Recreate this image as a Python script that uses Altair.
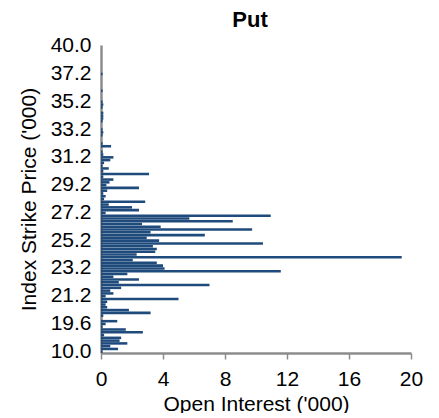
import altair as alt
import pandas as pd

# Strike categories, top of the axis first ('000)
strikes = [
    "40.0", "39.0", "38.8", "38.6", "38.4", "38.2", "38.0", "37.8", "37.6", "37.4",
    "37.2", "37.0", "36.8", "36.6", "36.4", "36.2", "36.0", "35.8", "35.6", "35.4",
    "35.2", "35.0", "34.8", "34.6", "34.4", "34.2", "34.0", "33.8", "33.6", "33.4",
    "33.2", "33.0", "32.8", "32.6", "32.4", "32.2", "32.0", "31.8", "31.6", "31.4",
    "31.2", "31.0", "30.8", "30.6", "30.4", "30.2", "30.0", "29.8", "29.6", "29.4",
    "29.2", "29.0", "28.8", "28.6", "28.4", "28.2", "28.0", "27.8", "27.6", "27.4",
    "27.2", "27.0", "26.8", "26.6", "26.4", "26.2", "26.0", "25.8", "25.6", "25.4",
    "25.2", "25.0", "24.8", "24.6", "24.4", "24.2", "24.0", "23.8", "23.6", "23.4",
    "23.2", "23.0", "22.8", "22.6", "22.4", "22.2", "22.0", "21.8", "21.6", "21.4",
    "21.2", "21.0", "20.8", "20.6", "20.4", "20.2", "20.0", "19.9", "19.8", "19.7",
    "19.6", "19.2", "18.8", "18.4", "18.0", "17.0", "16.0", "15.0", "14.0", "12.0",
    "10.0",
]

# Put open interest ('000), same order as strikes
open_interest = [
    0, 0, 0, 0, 0, 0, 0, 0, 0, 0,
    0.1, 0, 0, 0, 0, 0, 0.1, 0, 0, 0,
    0.1, 0.15, 0.1, 0, 0.15, 0.15, 0.15, 0.1, 0, 0,
    0.1, 0.15, 0.1, 0, 0, 0.1, 0.65, 0, 0.1, 0.15,
    0.8, 0.6, 0.2, 0.1, 0.5, 0.15, 3.1, 0.15, 0.8, 0.55,
    0.35, 2.45, 0.4, 0.15, 0.3, 0.2, 2.85, 0.5, 2.0, 2.45,
    0.3, 10.95, 5.7, 8.5, 2.65, 3.85, 9.75, 3.2, 6.7, 2.95,
    3.75, 10.45, 3.35, 3.6, 3.5, 2.3, 19.4, 2.05, 3.6, 4.0,
    4.1, 11.6, 1.7, 0.8, 2.45, 1.15, 7.0, 1.3, 0.6, 0.8,
    0.3, 5.0, 0.4, 0.3, 0.4, 1.8, 3.2, 0.15, 0, 1.05,
    0.3, 0.1, 1.6, 2.7, 0.2, 1.3, 1.2, 1.7, 0.6, 1.1,
    0.1,
]

y_labels = ["40.0", "37.2", "35.2", "33.2", "31.2", "29.2", "27.2",
            "25.2", "23.2", "21.2", "19.6", "10.0"]
x_ticks = [0, 4, 8, 12, 16, 20]

df = pd.DataFrame({"strike": strikes, "oi": open_interest})

FONT = "Liberation Sans"

chart = (
    alt.Chart(df)
    .mark_bar(color="#1f4a7c")
    .encode(
        x=alt.X(
            "oi:Q",
            scale=alt.Scale(domain=[0, 20], nice=False),
            axis=alt.Axis(
                values=x_ticks,
                title="Open Interest ('000)",
                grid=False,
                labelFlush=False,
                tickSize=6,
                tickColor="#8c8c8c",
                tickWidth=1.5,
                domainColor="#8c8c8c",
                domainWidth=2.5,
                labelPadding=9,
                titlePadding=4,
            ),
        ),
        y=alt.Y(
            "strike:N",
            sort=strikes,
            scale=alt.Scale(paddingInner=0.08, paddingOuter=0),
            axis=alt.Axis(
                values=y_labels,
                title="Index Strike Price ('000)",
                ticks=False,
                grid=False,
                domainColor="#8c8c8c",
                domainWidth=2.5,
                labelPadding=10,
                titlePadding=11,
            ),
        ),
    )
    .properties(
        width=310,
        height=308,
        title=alt.TitleParams("Put", fontSize=22, fontWeight="bold", font=FONT,
                              color="black", offset=3, dx=-6),
        padding={"left": 93, "top": 37, "right": 20, "bottom": 60},
        autosize=alt.AutoSizeParams(type="none"),
    )
    .configure_axis(
        labelFont=FONT,
        titleFont=FONT,
        labelFontSize=21,
        titleFontSize=21,
        titleFontWeight="normal",
        labelColor="black",
        titleColor="black",
    )
    .configure_view(stroke=None)
)

chart.save("out.html", embed_options={"renderer": "svg", "actions": False})
